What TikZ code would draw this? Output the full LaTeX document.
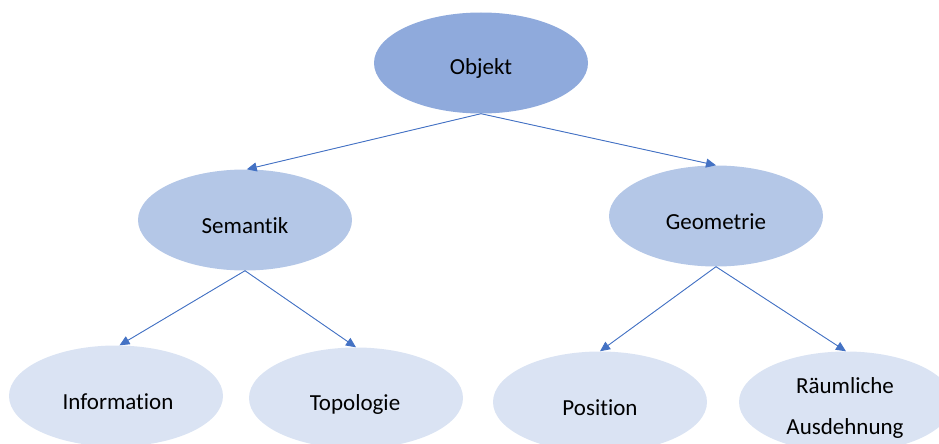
\documentclass[tikz,border=0pt]{standalone}
\usepackage{fontspec}
\setmainfont[Ligatures=NoCommon,RawFeature={-liga;-dlig;-clig}]{Carlito}
\usetikzlibrary{shapes.geometric,arrows.meta}
\definecolor{topfill}{HTML}{8FAADC}
\definecolor{midfill}{HTML}{B4C7E7}
\definecolor{lowfill}{HTML}{DAE3F3}
\definecolor{linkblue}{HTML}{4472C4}
\begin{document}
\begin{tikzpicture}[x=1pt,y=-1pt,
  oval/.style={ellipse, draw=none, inner sep=0pt, minimum width=214pt, minimum height=101pt},
  lvlone/.style={oval, fill=topfill},
  lvltwo/.style={oval, fill=midfill},
  lvlthree/.style={oval, fill=lowfill},
  caption/.style={font=\fontsize{23}{41}\selectfont, text=black, align=center, inner sep=0pt},
  link/.style={draw=linkblue, line width=0.9pt, -{Triangle[length=10pt,width=9pt]}, fill=linkblue}]
\useasboundingbox (0,0) rectangle (939,444);
\clip (0,0) rectangle (939,444);
% tree of ellipses
\node[lvlone]   (obj) at (481,63)  {};
\node[caption]  (objtxt) at (481,68) {Objekt};
\node[lvltwo]   (sem) at (245,220) {};
\node[caption]  (semtxt) at (245,226) {Semantik};
\node[lvltwo]   (geo) at (716,216) {};
\node[caption]  (geotxt) at (716,222) {Geometrie};
\node[lvlthree] (inf) at (116,396) {};
\node[caption]  (inftxt) at (118,402) {Information};
\node[lvlthree] (top) at (356,398) {};
\node[caption]  (toptxt) at (355,404) {Topologie};
\node[lvlthree] (pos) at (600,402) {};
\node[caption]  (postxt) at (600,408) {Position};
\node[lvlthree] (rau) at (846,402) {};
\node[caption]  (rautxt) at (845,408) {Räumliche\\Ausdehnung};
% connectors
\draw[link] (obj.south) -- (sem.88);
\draw[link] (obj.south) -- (geo.north);
\draw[link] (sem.south) -- (inf.86);
\draw[link] (sem.south) -- (top.north);
\draw[link] (geo.south) -- (pos.north);
\draw[link] (geo.south) -- (rau.north);
\end{tikzpicture}
\end{document}
